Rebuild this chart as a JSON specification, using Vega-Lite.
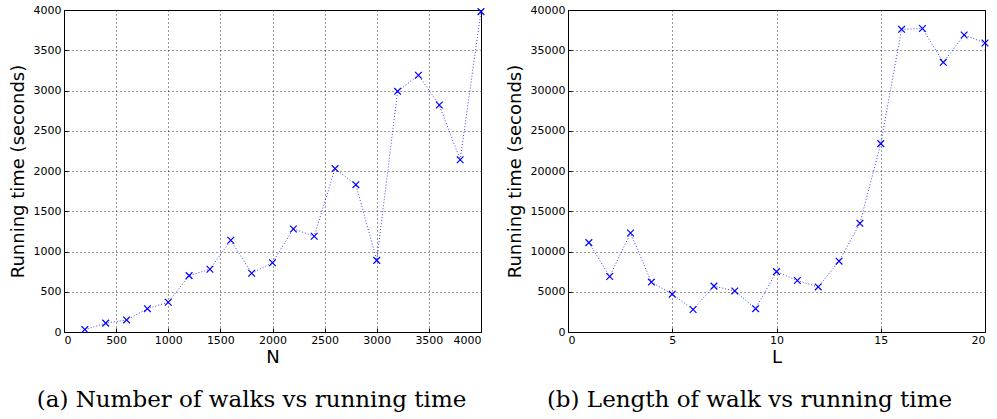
{
  "$schema": "https://vega.github.io/schema/vega-lite/v6.json",
  "background": "white",
  "padding": {"left": 8, "top": 3, "right": 5, "bottom": 2},
  "spacing": 17,
  "config": {
    "view": {"stroke": "black", "strokeWidth": 1},
    "axis": {
      "labelFont": "DejaVu Sans", "labelFontSize": 11, "labelColor": "black",
      "titleFont": "DejaVu Sans", "titleFontSize": 18, "titleFontWeight": "normal", "titleColor": "black",
      "grid": true, "gridColor": "black", "gridDash": [1, 3], "gridOpacity": 0.8,
      "domain": false, "tickColor": "black", "tickSize": -4, "labelPadding": 7, "format": "d"
    },
    "title": {"font": "DejaVu Serif", "fontSize": 23, "fontWeight": "normal", "color": "black", "orient": "bottom", "offset": 23}
  },
  "datasets": {
    "walks": [
      {"N": 200, "t": 30}, {"N": 400, "t": 110}, {"N": 600, "t": 150}, {"N": 800, "t": 290},
      {"N": 1000, "t": 370}, {"N": 1200, "t": 700}, {"N": 1400, "t": 780}, {"N": 1600, "t": 1140},
      {"N": 1800, "t": 730}, {"N": 2000, "t": 860}, {"N": 2200, "t": 1280}, {"N": 2400, "t": 1190},
      {"N": 2600, "t": 2030}, {"N": 2800, "t": 1830}, {"N": 3000, "t": 890}, {"N": 3200, "t": 2990},
      {"N": 3400, "t": 3190}, {"N": 3600, "t": 2820}, {"N": 3800, "t": 2140}, {"N": 4000, "t": 3980}
    ],
    "length": [
      {"L": 1, "t": 11100}, {"L": 2, "t": 6900}, {"L": 3, "t": 12300}, {"L": 4, "t": 6200},
      {"L": 5, "t": 4700}, {"L": 6, "t": 2800}, {"L": 7, "t": 5700}, {"L": 8, "t": 5100},
      {"L": 9, "t": 2900}, {"L": 10, "t": 7500}, {"L": 11, "t": 6400}, {"L": 12, "t": 5600},
      {"L": 13, "t": 8800}, {"L": 14, "t": 13500}, {"L": 15, "t": 23400}, {"L": 16, "t": 37600},
      {"L": 17, "t": 37700}, {"L": 18, "t": 33500}, {"L": 19, "t": 36900}, {"L": 20, "t": 35900}
    ]
  },
  "hconcat": [
    {
      "title": {"text": "(a) Number of walks vs running time", "dx": -21},
      "width": 417, "height": 322,
      "data": {"name": "walks"},
      "encoding": {
        "x": {"field": "N", "type": "quantitative", "scale": {"domain": [0, 4000], "nice": false},
              "axis": {"values": [0,500,1000,1500,2000,2500,3000,3500,4000], "title": "N", "titlePadding": 3, "labelPadding": 6}},
        "y": {"field": "t", "type": "quantitative", "scale": {"domain": [0, 4000], "nice": false},
              "axis": {"values": [0,500,1000,1500,2000,2500,3000,3500,4000], "title": "Running time (seconds)", "titlePadding": 6}}
      },
      "layer": [
        {"mark": {"type": "line", "color": "blue", "strokeWidth": 1, "strokeDash": [1, 2], "opacity": 0.75}},
        {"mark": {"type": "point", "shape": "M-1,-1L1,1M-1,1L1,-1", "filled": false, "color": "blue", "strokeWidth": 1.2, "size": 45, "opacity": 1}}
      ]
    },
    {
      "title": {"text": "(b) Length of walk vs running time", "dx": -27},
      "width": 417, "height": 322,
      "data": {"name": "length"},
      "encoding": {
        "x": {"field": "L", "type": "quantitative", "scale": {"domain": [0, 20], "nice": false},
              "axis": {"values": [0,5,10,15,20], "title": "L", "titlePadding": 3, "labelPadding": 6}},
        "y": {"field": "t", "type": "quantitative", "scale": {"domain": [0, 40000], "nice": false},
              "axis": {"values": [0,5000,10000,15000,20000,25000,30000,35000,40000], "title": "Running time (seconds)", "titlePadding": 6}}
      },
      "layer": [
        {"mark": {"type": "line", "color": "blue", "strokeWidth": 1, "strokeDash": [1, 2], "opacity": 0.75}},
        {"mark": {"type": "point", "shape": "M-1,-1L1,1M-1,1L1,-1", "filled": false, "color": "blue", "strokeWidth": 1.2, "size": 45, "opacity": 1}}
      ]
    }
  ]
}
